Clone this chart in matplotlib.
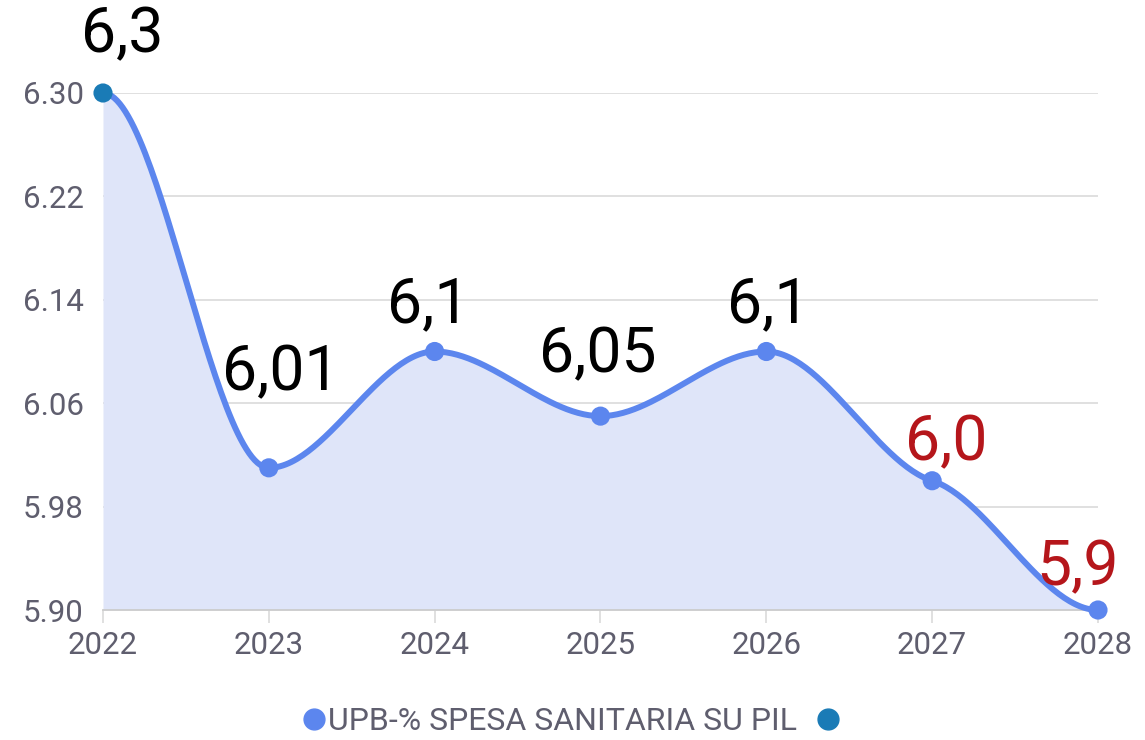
import matplotlib.pyplot as plt
from matplotlib.lines import Line2D
import numpy as np

plt.rcParams['font.family'] = ['Roboto', 'DejaVu Sans']

years = [2022, 2023, 2024, 2025, 2026, 2027, 2028]
values = [6.30, 6.01, 6.10, 6.05, 6.10, 6.00, 5.90]
labels = ['6,3', '6,01', '6,1', '6,05', '6,1', '6,0', '5,9']
label_colors = ['black', 'black', 'black', 'black', 'black', '#b5161b', '#b5161b']
yticks = [5.90, 5.98, 6.06, 6.14, 6.22, 6.30]
series_name = 'UPB-% SPESA SANITARIA SU PIL'

line_color = '#5c86ee'
first_color = '#1a7bb6'
fill_color = '#dfe5f9'
text_gray = '#5f5e6e'

# smooth curve through points (hermite, flat at turning points)
x = np.array(years, dtype=float)
y = np.array(values)
d = np.diff(y) / np.diff(x)
m = np.zeros_like(y)
for i in range(1, len(y) - 1):
    if d[i - 1] * d[i] > 0:
        m[i] = 0.4 * (d[i - 1] + d[i]) / 2
xs, ys = [], []
for i in range(len(x) - 1):
    h = x[i + 1] - x[i]
    t = np.linspace(0, 1, 60)
    h00 = 2*t**3 - 3*t**2 + 1
    h10 = t**3 - 2*t**2 + t
    h01 = -2*t**3 + 3*t**2
    h11 = t**3 - t**2
    xs.extend(x[i] + t * h)
    ys.extend(h00*y[i] + h10*h*m[i] + h01*y[i+1] + h11*h*m[i+1])

fig = plt.figure(figsize=(11.45, 7.4), dpi=100)
ax = fig.add_axes([103/1145, 1 - 610/740, (1098 - 103)/1145, (610 - 93)/740])

ax.fill_between(xs, ys, 5.90, color=fill_color, lw=0)
ax.plot(xs, ys, color=line_color, lw=4.3, solid_capstyle='round', clip_on=False, zorder=3)
mcolors = [first_color] + [line_color] * (len(years) - 1)
ax.scatter(years, values, s=190, c=mcolors, zorder=4, clip_on=False, linewidths=0)

# label offsets (points), text baseline relative to the marker
offsets = [(14, 29.5), (8.6, 56), (-4.3, 21), (-2, 31.7), (1.4, 21), (10, 15), (-14.4, 18)]
for xi, yi, lab, col, off in zip(years, values, labels, label_colors, offsets):
    ax.annotate(lab, (xi, yi), xytext=off, textcoords='offset points',
                ha='center', va='baseline', fontsize=45, color=col)

ax.set_xlim(2022, 2028)
ax.set_ylim(5.90, 6.30)
ax.set_yticks(yticks)
ax.set_yticklabels(['%.2f' % v for v in yticks])
ax.set_xticks(years)
ax.grid(axis='y', color='#dddddd', lw=1.3)
ax.set_axisbelow(True)
for s in ['top', 'right', 'left']:
    ax.spines[s].set_visible(False)
ax.spines['bottom'].set_color('#cccccc')
ax.spines['bottom'].set_linewidth(1.3)
ax.tick_params(axis='y', length=0, pad=14, labelsize=22.5, labelcolor=text_gray)
ax.tick_params(axis='x', length=9, color='#dddddd', width=1.3, pad=6,
               labelsize=22.5, labelcolor=text_gray)

handles = [Line2D([], [], marker='o', ls='', color=line_color, markersize=15),
           Line2D([], [], marker='o', ls='', color=first_color, markersize=15)]
fig.legend(handles, [series_name, ''], loc='center', bbox_to_anchor=(0.5, 1 - 722/740),
           ncol=2, frameon=False, fontsize=23, labelcolor=text_gray,
           handlelength=0.7, handletextpad=0.1, columnspacing=0.6)

fig.savefig('out.png', dpi=100)
